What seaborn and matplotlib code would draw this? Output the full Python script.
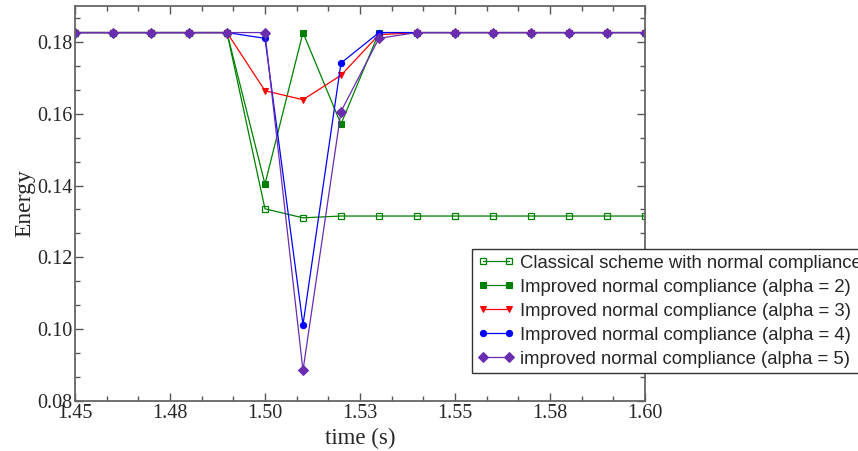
import matplotlib
matplotlib.use("Agg")
import matplotlib.pyplot as plt
import seaborn as sns
from matplotlib.ticker import AutoMinorLocator, FixedLocator, FixedFormatter

# =========================
# 数据
# =========================
time_s = [1.45, 1.46, 1.47, 1.48, 1.49, 1.50, 1.51, 1.52,
          1.53, 1.54, 1.55, 1.56, 1.57, 1.58, 1.59, 1.60]

classical = [0.1826, 0.1826, 0.1826, 0.1826, 0.1826, 0.1335, 0.1310, 0.1315,
             0.1315, 0.1315, 0.1315, 0.1315, 0.1315, 0.1315, 0.1315, 0.1315]
alpha2 = [0.1826, 0.1826, 0.1826, 0.1826, 0.1826, 0.1404, 0.1826, 0.1571,
          0.1826, 0.1826, 0.1826, 0.1826, 0.1826, 0.1826, 0.1826, 0.1826]
alpha3 = [0.1826, 0.1826, 0.1826, 0.1826, 0.1826, 0.1664, 0.1639, 0.1707,
          0.1820, 0.1826, 0.1826, 0.1826, 0.1826, 0.1826, 0.1826, 0.1826]
alpha4 = [0.1826, 0.1826, 0.1826, 0.1826, 0.1826, 0.1810, 0.1012, 0.1741,
          0.1826, 0.1826, 0.1826, 0.1826, 0.1826, 0.1826, 0.1826, 0.1826]
alpha5 = [0.1826, 0.1826, 0.1826, 0.1826, 0.1826, 0.1826, 0.0885, 0.1606,
          0.1810, 0.1826, 0.1826, 0.1826, 0.1826, 0.1826, 0.1826, 0.1826]

labels = [
    "Classical scheme with normal compliance",
    "Improved normal compliance (alpha = 2)",
    "Improved normal compliance (alpha = 3)",
    "Improved normal compliance (alpha = 4)",
    "improved normal compliance (alpha = 5)",
]

x_ticks = [1.45, 1.475, 1.50, 1.525, 1.55, 1.575, 1.60]
x_tick_labels = ["1.45", "1.48", "1.50", "1.53", "1.55", "1.58", "1.60"]
y_ticks = [0.08, 0.10, 0.12, 0.14, 0.16, 0.18]
y_tick_labels = ["0.08", "0.10", "0.12", "0.14", "0.16", "0.18"]

# =========================
# 画图
# =========================
sns.set_theme(style="ticks")
plt.rcParams["font.family"] = ["Liberation Serif", "DejaVu Serif"]

fig = plt.figure(figsize=(8.58, 4.51), dpi=100)
ax = fig.add_axes([0.0874, 0.111, 0.6643, 0.8757])

series = [
    (classical, "green", "s", dict(markerfacecolor="none", markersize=4.5, markeredgewidth=0.9)),
    (alpha2, "green", "s", dict(markersize=4.5)),
    (alpha3, "red", "v", dict(markersize=5)),
    (alpha4, "blue", "o", dict(markersize=4.5)),
    (alpha5, "#6a2db0", "D", dict(markersize=5.5)),
]

for (vals, color, marker, kw), lab in zip(series, labels):
    sns.lineplot(x=time_s, y=vals, ax=ax, color=color, marker=marker,
                 linewidth=0.9, markeredgecolor=color, label=lab, **kw)

ax.set_xlim(1.45, 1.60)
ax.set_ylim(0.08, 0.19)

ax.xaxis.set_major_locator(FixedLocator(x_ticks))
ax.xaxis.set_major_formatter(FixedFormatter(x_tick_labels))
ax.yaxis.set_major_locator(FixedLocator(y_ticks))
ax.yaxis.set_major_formatter(FixedFormatter(y_tick_labels))
ax.xaxis.set_minor_locator(AutoMinorLocator(3))
ax.yaxis.set_minor_locator(AutoMinorLocator(3))

ax.tick_params(which="both", direction="in", top=True, right=True,
               color="#555555", labelsize=14.5, pad=2)
ax.tick_params(which="major", length=6, width=1)
ax.tick_params(which="minor", length=3.5, width=1)
for sp in ax.spines.values():
    sp.set_visible(True)
    sp.set_color("#666666")
    sp.set_linewidth(1.3)

ax.set_xlabel("time (s)", fontsize=16.5, labelpad=4)
ax.set_ylabel("Energy", fontsize=17, labelpad=1)

leg = ax.legend(loc="upper left", bbox_to_anchor=(472 / 858, 1 - 249 / 451),
                bbox_transform=fig.transFigure, borderaxespad=0,
                numpoints=2, handlelength=2.0, handletextpad=0.3,
                borderpad=0.3, labelspacing=0.38, fancybox=False,
                framealpha=1, edgecolor="#333333",
                prop={"family": ["Liberation Sans", "DejaVu Sans"], "size": 13.3})
leg.get_frame().set_linewidth(1.0)

fig.savefig("out.png", dpi=100)
